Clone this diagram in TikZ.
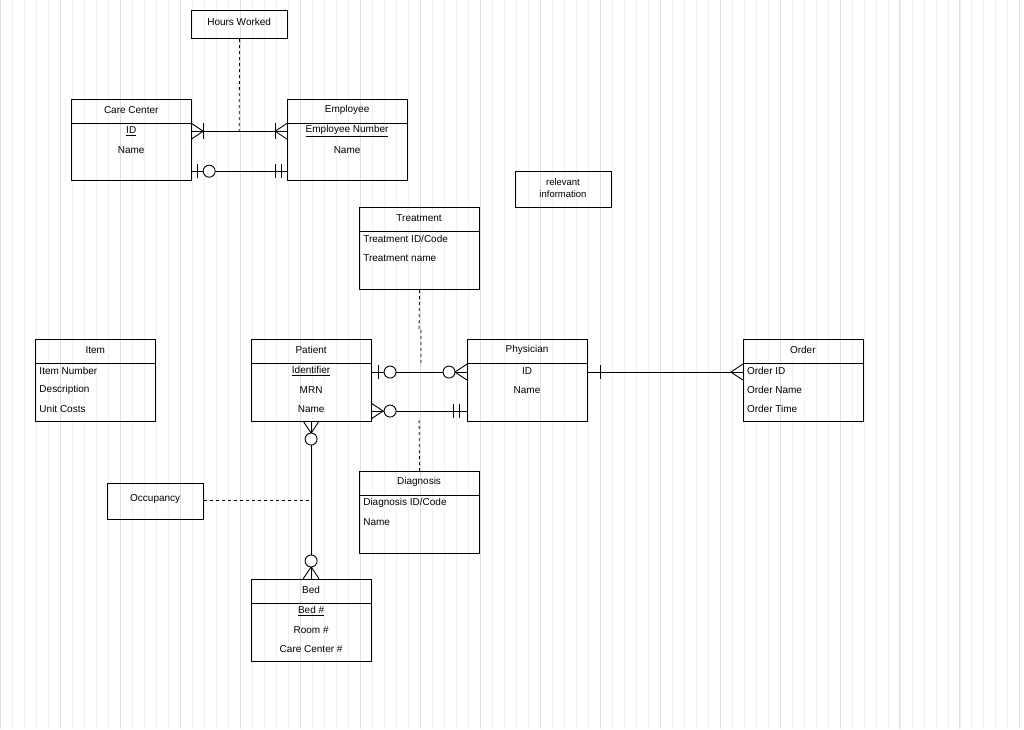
\documentclass[tikz,border=0pt]{standalone}
\usepackage{fontspec}
\setmainfont{Liberation Sans}
\begin{document}
\begin{tikzpicture}[x=1pt,y=-1pt,
  box/.style={draw, line width=0.9pt, inner sep=0pt},
  t/.style={font=\fontsize{10}{12}\selectfont, inner sep=0pt},
  ln/.style={line width=0.9pt},
  dsh/.style={line width=0.8pt, dash pattern=on 3pt off 3pt},
  circ/.style={ln, fill=white}]
\fill[white] (0,0) rectangle (1024,729);
\draw[black!6, line width=0.5pt, step=12] (0,0) grid (1024,729);
\draw[black!13, line width=0.6pt, step=60] (0,0) grid (1024,729);
\useasboundingbox (0,0) rectangle (1024,729);
% entities
\newcommand{\ent}[6]{% name x1 y1 x2 y2 header
  \node[box, minimum width=#4-#2, minimum height=#5-#3, anchor=north west] (#1) at (#2,#3) {};
  \draw[ln] (#2,#3+24) -- (#4,#3+24);
  \node[t] at ({(#2+#4)/2},#3+11) {#6};}
\ent{cc}{71}{99}{191}{180}{Care Center}
\node[t] at (131,131) {\underline{ID}};
\node[t] at (131,150) {Name};
\ent{emp}{287}{99}{407}{180}{Employee}
\node[t] at (347,131) {\underline{Employee Number}};
\node[t] at (347,150) {Name};
\node[box, minimum width=96, minimum height=28, anchor=north west] (hw) at (191,10) {};
\node[t] at (239,22) {Hours Worked};
\node[box, minimum width=96, minimum height=36, anchor=north west] (rel) at (515,171) {};
\node[t, align=center, font=\fontsize{9.5}{12}\selectfont] at (563,188) {relevant\\information};
\ent{tr}{359}{207}{479}{289}{Treatment}
\node[t, anchor=west] at (363,239) {Treatment ID/Code};
\node[t, anchor=west] at (363,258) {Treatment name};
\ent{item}{35}{339}{155}{421}{Item}
\node[t, anchor=west] at (39,371) {Item Number};
\node[t, anchor=west] at (39,390) {Description};
\node[t, anchor=west] at (39,409) {Unit Costs};
\ent{pat}{251}{339}{371}{421}{Patient}
\node[t] at (311,371) {\underline{Identifier}};
\node[t] at (311,390) {MRN};
\node[t] at (311,409) {Name};
\ent{phy}{467}{339}{587}{421}{Physician}
\node[t] at (527,371) {ID};
\node[t] at (527,390) {Name};
\ent{ord}{743}{339}{863}{421}{Order}
\node[t, anchor=west] at (747,371) {Order ID};
\node[t, anchor=west] at (747,390) {Order Name};
\node[t, anchor=west] at (747,409) {Order Time};
\ent{dia}{359}{471}{479}{553}{Diagnosis}
\node[t, anchor=west] at (363,503) {Diagnosis ID/Code};
\node[t, anchor=west] at (363,522) {Name};
\node[box, minimum width=96, minimum height=36, anchor=north west] (occ) at (107,483) {};
\node[t] at (155,499) {Occupancy};
\ent{bed}{251}{579}{371}{661}{Bed}
\node[t] at (311,611) {\underline{Bed \#}};
\node[t] at (311,630) {Room \#};
\node[t] at (311,649) {Care Center \#};
% relationship lines
\coordinate (m1) at (239,131);
\coordinate (m2) at (419,330);
\coordinate (m3) at (311,500);
\draw[ln] (cc.east|-m1) -- (emp.west|-m1);
\draw[dsh] (hw.south) -- (m1);
\draw[ln] (191,123) -- (203,131) -- (191,139); \draw[ln] (203,123) -- (203,139);
\draw[ln] (287,123) -- (275,131) -- (287,139); \draw[ln] (275,123) -- (275,139);
\draw[ln] (191,171) -- (287,171);
\draw[ln] (197,164) -- (197,178); \draw[circ] (209,171) circle (6);
\draw[ln] (275,164) -- (275,178); \draw[ln] (281,164) -- (281,178);
% patient-physician
\draw[ln] (371,372) -- (467,372);
\draw[ln] (378,365) -- (378,379); \draw[circ] (390,372) circle (6);
\draw[ln] (467,364) -- (455,372) -- (467,380); \draw[circ] (449,372) circle (6);
\draw[ln] (371,411) -- (467,411);
\draw[ln] (371,403) -- (383,411) -- (371,419); \draw[circ] (390,411) circle (6);
\draw[ln] (453,404) -- (453,418); \draw[ln] (459,404) -- (459,418);
\draw[dsh] (tr.south) -- (m2) -- (421,330) -- (421,366);
\draw[dsh] (dia.north) -- (419,417);
% physician-order
\draw[ln] (587,372) -- (743,372);
\draw[ln] (600,365) -- (600,379);
\draw[ln] (743,364) -- (731,372) -- (743,380);
% patient-bed
\draw[ln] (311,421) -- (311,579);
\draw[ln] (303,421) -- (311,433) -- (319,421); \draw[circ] (311,439) circle (6);
\draw[ln] (303,579) -- (311,567) -- (319,579); \draw[circ] (311,561) circle (6);
\draw[dsh] (occ.east|-m3) -- (m3);
\end{tikzpicture}
\end{document}
